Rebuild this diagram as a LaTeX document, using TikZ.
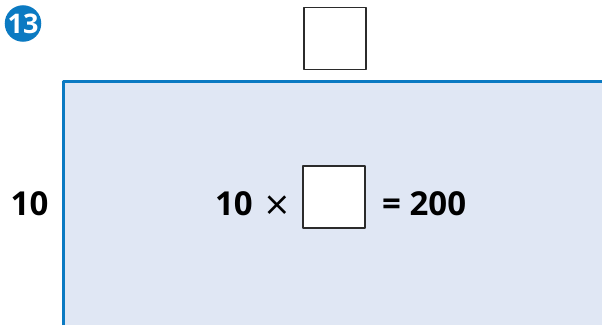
\documentclass[tikz,border=0pt]{standalone}
\usepackage{fontspec}
\setmainfont{Open Sans}
\newfontfamily\signe{DejaVu Sans}
\definecolor{bordeblue}{HTML}{0B7AC2}
\definecolor{fondblue}{HTML}{E0E7F4}
\definecolor{cadre}{HTML}{2B2B2B}
\begin{document}
\begin{tikzpicture}[x=1pt,y=-1pt,line join=round,
	font=\fontsize{33}{38}\selectfont\bfseries,
	case/.style={draw=cadre,line width=1.6pt,fill=white,minimum size=62pt,inner sep=0pt}]
	\useasboundingbox (0,0) rectangle (602,325);
	% rectangle bleu
	\fill[fondblue] (63,81) rectangle (602,325);
	\draw[bordeblue,line width=3pt] (63,325)--(63,81)--(602,81);
	% numero
	\node (num) at (23,23.5) [circle,fill=bordeblue,minimum size=34pt,inner sep=0pt,text=white,font=\fontsize{27}{28}\selectfont\bfseries] {13};
	\node (haut) at (335,38.5) [case] {};
	\node (cote) at (29.5,215) [anchor=base] {10};
	% egalite
	\node (dix) at (253,215) [anchor=base east,inner sep=0pt] {10};
	\node (fois) at (277.5,215) [anchor=base,inner sep=0pt,font=\fontsize{33}{38}\signe] {×};
	\node (vide) at (334,197) [case] {};
	\node (res) at (382,215) [anchor=base west,inner sep=0pt] {= 200};
\end{tikzpicture}
\end{document}
